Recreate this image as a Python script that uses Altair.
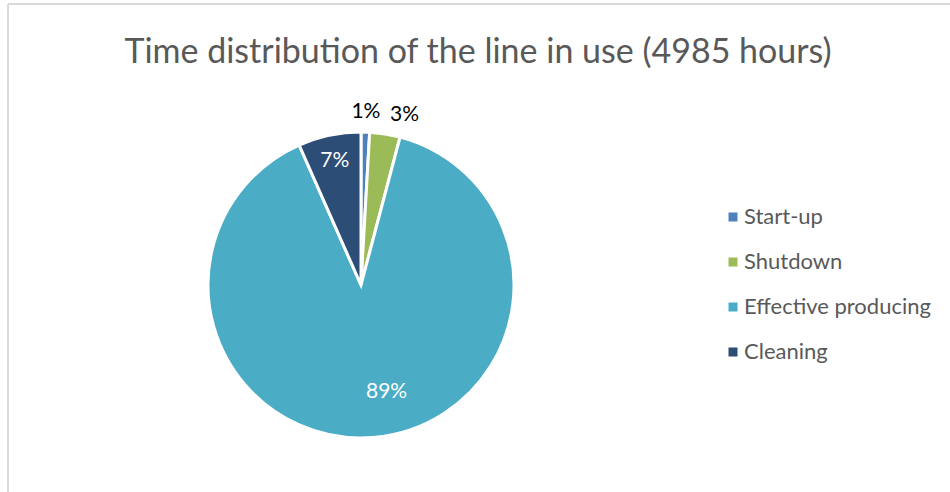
import altair as alt
import pandas as pd

categories = ["Start-up", "Shutdown", "Effective producing", "Cleaning"]
hours = [45, 160, 4450, 330]
order_idx = [0, 1, 2, 3]
colors = ["#4F81BD", "#9BBB59", "#4BACC6", "#2C4D75"]
title_text = "Time distribution of the line in use (4985 hours)"

total = sum(hours)
df = pd.DataFrame({
    "category": categories,
    "hours": hours,
    "idx": order_idx,
})
df["pct"] = [h / total * 100 for h in hours]

FONT = "Lato"
W, H = 942, 488
CX, CY = 353, 281

base = alt.Chart(df)

color_scale = alt.Scale(domain=categories, range=colors)

pie = base.mark_arc(outerRadius=153, stroke="white", strokeWidth=3).encode(
    theta=alt.Theta("pct:Q", stack=True),
    order=alt.Order("idx:Q"),
    color=alt.Color(
        "category:N",
        scale=color_scale,
        sort=categories,
        legend=alt.Legend(
            title=None,
            orient="none",
            legendX=714,
            legendY=202,
            symbolType="square",
            symbolSize=81,
            symbolStrokeWidth=0,
            labelFontSize=22,
            labelFont=FONT,
            labelColor="#595959",
            labelLimit=400,
            rowPadding=23,
            labelOffset=0,
        ),
    ),
    x=alt.value(CX),
    y=alt.value(CY),
)


def label_layer(cat, radius, color, dx=0, dy=0):
    return (
        base.transform_window(
            cum="sum(pct)", sort=[alt.SortField("idx")], frame=[None, 0]
        )
        .transform_calculate(
            mid="datum.cum - datum.pct / 2",
            lab="format(datum.pct, '.0f') + '%'",
        )
        .transform_filter(alt.datum.category == cat)
        .mark_text(
            font=FONT, fontSize=21, color=color, dx=dx, dy=dy,
            align="center", baseline="middle",
        )
        .encode(
            theta=alt.Theta(
                "mid:Q",
                scale=alt.Scale(domain=[0, 100], range=[0, 6.283185307]),
            ),
            radius=alt.value(radius),
            text="lab:N",
            x=alt.value(CX),
            y=alt.value(CY),
        )
    )


labels = [
    label_layer("Start-up", 173, "#000000"),
    label_layer("Shutdown", 175, "#000000", dx=16, dy=3),
    label_layer("Cleaning", 127, "#FFFFFF"),
    label_layer("Effective producing", 109, "#FFFFFF", dx=17, dy=-2),
]

frame_top = base.mark_rule(color="#D9D9D9", strokeWidth=2).encode(
    x=alt.value(0), x2=alt.value(W + 20), y=alt.value(0)
)
frame_left = base.mark_rule(color="#D9D9D9", strokeWidth=2).encode(
    x=alt.value(0), y=alt.value(0), y2=alt.value(H + 20)
)

chart = (
    alt.layer(frame_top, frame_left, pie, *labels)
    .resolve_scale(theta="independent")
    .properties(
        width=W,
        height=H,
        autosize=alt.AutoSizeParams(type="none"),
        padding={"left": 8, "top": 4, "right": 0, "bottom": 0},
        title=alt.TitleParams(
            title_text,
            font=FONT,
            fontSize=34,
            fontWeight="normal",
            color="#595959",
            anchor="middle",
            baseline="alphabetic",
            offset=-94,
            dx=-1,
        ),
    )
    .configure_view(stroke=None)
    .configure(background="white")
)

chart.save("out.html", embed_options={"renderer": "svg", "actions": False})
